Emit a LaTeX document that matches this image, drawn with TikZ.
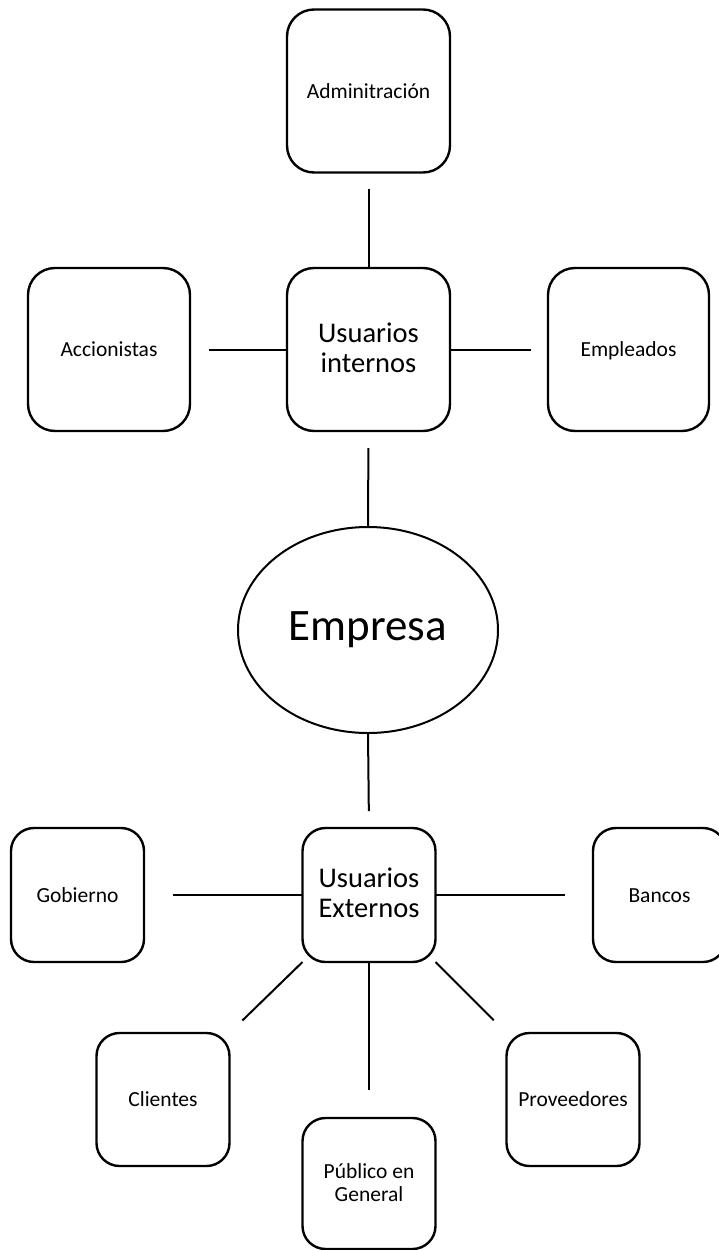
\documentclass[tikz,border=0pt]{standalone}
\usepackage{fontspec}
\setmainfont{Carlito}
\usepackage{tikz}
\usetikzlibrary{shapes.geometric}

\newcommand{\labelstrut}{\vrule width 0pt height 17pt depth 2.6pt}
\newcommand{\titlestrut}{\vrule width 0pt height 21pt depth 4.5pt}

\begin{document}
\begin{tikzpicture}[x=1pt, y=-1pt,
% common options for the boxes:
bigbox/.style = {rectangle, rounded corners=27pt, draw, line width=2.4pt,
            align=center, inner sep=0, outer sep=0,
            minimum width=163pt, minimum height=163pt,
            execute at begin node=\labelstrut, execute at end node=\labelstrut,
            font=\fontsize{21.5}{24}\selectfont},
smallbox/.style = {bigbox, rounded corners=23pt,
            minimum width=133pt, minimum height=133pt},
% bigger text for the two user groups:
title/.style = {execute at begin node=\titlestrut, execute at end node=\titlestrut,
            font=\fontsize{28.5}{30}\selectfont},
% common options for the connectors:
link/.style = {line width=2pt}]
\useasboundingbox (0,0) rectangle (718,1250);
\node[bigbox] (admin) at (368.5,91) {Adminitración};
\node[bigbox, title] (uint) at (368.5,349.5) {Usuarios\\internos};
\node[bigbox, minimum width=162pt] (accion) at (109,349.5) {Accionistas};
\node[bigbox, minimum width=161pt] (emplea) at (628.5,349.5) {Empleados};
\node[ellipse, draw, line width=2pt, inner sep=0, outer sep=0,
      minimum width=260pt, minimum height=206pt,
      font=\fontsize{45}{50}\selectfont] (empresa) at (368,630) {Empresa};
\node[smallbox, title, minimum height=134pt] (uext) at (369,895) {Usuarios\\Externos};
\node[smallbox, minimum height=134pt] (gob) at (77.5,895) {Gobierno};
\node[smallbox, minimum height=134pt] (bancos) at (659.5,895) {Bancos};
\node[smallbox] (clientes) at (163,1099.5) {Clientes};
\node[smallbox] (prov) at (573,1099.5) {Proveedores};
\node[smallbox, minimum height=131pt, font=\fontsize{21.5}{23}\selectfont] (publico) at (369,1183.5) {Público en\\General};
\draw[link, shorten <=16pt] (admin.south) to (uint.north);
\draw[link, shorten <=19pt] (accion.east) to (uint.west);
\draw[link, shorten >=17pt] (uint.east) to (emplea.west);
\draw[link, shorten <=17pt] (uint.south) to (empresa.north);
\draw[link, shorten >=17pt] (empresa.south) to (uext.north);
\draw[link, shorten <=29pt] (gob.east) to (uext.west);
\draw[link, shorten >=28pt] (uext.east) to (bancos.west);
\draw[link, shorten >=18pt] (uext.south west) to (clientes.north east);
\draw[link, shorten >=18pt] (uext.south east) to (prov.north west);
\draw[link, shorten >=28pt] (uext.south) to (publico.north);
\end{tikzpicture}
\end{document}
